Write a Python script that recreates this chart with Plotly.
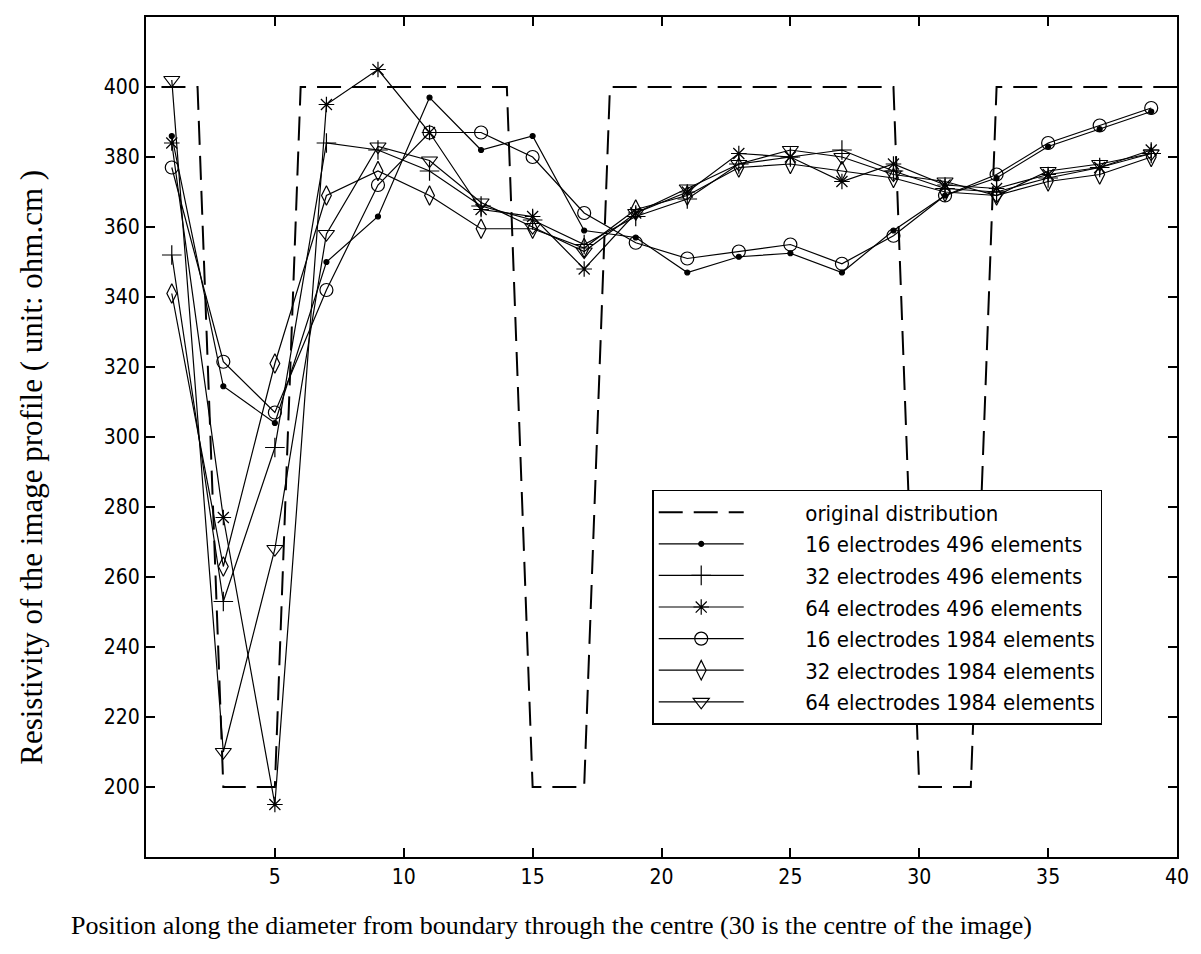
import plotly.graph_objects as go

# ---- data ----
pos = [1, 3, 5, 7, 9, 11, 13, 15, 17, 19, 21, 23, 25, 27, 29, 31, 33, 35, 37, 39]

orig_x = [0.6, 2, 3, 5, 6, 14, 15, 17, 18, 29, 30, 32, 33, 40]
orig_y = [400, 400, 200, 200, 400, 400, 200, 200, 400, 400, 200, 200, 400, 400]

e16_496 = [386, 314.5, 304, 350, 363, 397, 382, 386, 359, 357, 347, 351.5, 352.5, 347, 359, 369, 374, 383, 388, 393]
e32_496 = [352, 253, 297, 384, 382, 376, 366, 362, 355, 363, 368, 378, 380, 382, 376, 371, 370, 374, 377, 381]
e64_496 = [384, 277, 195, 395, 405, 387, 365, 363, 348, 364, 370, 381, 380, 373, 378, 372, 371, 375, 377, 382]
e16_1984 = [377, 321.5, 307, 342, 372, 387, 387, 380, 364, 355.5, 351, 353, 355, 349.5, 357.5, 369, 375, 384, 389, 394]
e32_1984 = [341, 263, 321, 369, 376, 369, 359.5, 359.5, 354, 365, 369, 377, 378, 376, 374, 370, 369, 373, 375, 380]
e64_1984 = [402, 210, 268, 358, 383, 379, 367, 360, 353, 364, 371, 378, 382, 380, 375, 373, 369, 376, 378, 381]

names = [
    "16 electrodes 496 elements",
    "32 electrodes 496 elements",
    "64 electrodes 496 elements",
    "16 electrodes 1984 elements",
    "32 electrodes 1984 elements",
    "64 electrodes 1984 elements",
]
series = [e16_496, e32_496, e64_496, e16_1984, e32_1984, e64_1984]
symbols = ["circle", "cross-thin-open", "asterisk-open", "circle-open", "diamond-tall-open", "triangle-down-open"]
sizes = [5, 14, 13, 13, 14, 14]

x_ticks = [5, 10, 15, 20, 25, 30, 35, 40]
y_ticks = [200, 220, 240, 260, 280, 300, 320, 340, 360, 380, 400]

tick_font = "Liberation Sans Narrow, DejaVu Sans Condensed, Arial Narrow, sans-serif"
serif_font = "Liberation Serif, Times New Roman, serif"
pad = "\u00a0" * 9

fig = go.Figure()
fig.add_trace(go.Scatter(
    x=orig_x, y=orig_y, mode="lines", name=pad + "original distribution",
    line=dict(color="black", width=2, dash="24px,11px"),
))
for name, ys, sym, sz in zip(names, series, symbols, sizes):
    fig.add_trace(go.Scatter(
        x=pos, y=ys, mode="lines+markers", name=pad + name,
        line=dict(color="black", width=1.2),
        marker=dict(symbol=sym, size=sz, color="black",
                    line=dict(color="black", width=1.2)),
    ))

axis_common = dict(
    showline=True, linecolor="black", linewidth=2, mirror="ticks",
    ticks="inside", ticklen=9, tickwidth=1.5, tickcolor="black",
    showgrid=False, zeroline=False,
    tickfont=dict(family=tick_font, size=21, color="black"),
)
fig.update_xaxes(range=[0, 40], tickvals=x_ticks, **axis_common)
fig.update_yaxes(range=[180, 420], tickvals=y_ticks, **axis_common)

fig.update_layout(
    width=1201, height=954,
    margin=dict(l=146, r=14, t=17, b=97),
    paper_bgcolor="white", plot_bgcolor="white",
    showlegend=True,
    legend=dict(
        x=0.491, y=0.437, xanchor="left", yanchor="top",
        bgcolor="white", bordercolor="black", borderwidth=1.5,
        font=dict(family=tick_font, size=22, color="black"),
        itemwidth=85,
        tracegroupgap=0,
    ),
    annotations=[
        dict(text="Position along the diameter from boundary through the centre (30 is the centre of the image)",
             xref="paper", yref="paper", x=-0.075, y=-0.081, xanchor="left", yanchor="middle",
             showarrow=False, font=dict(family=serif_font, size=26, color="black")),
        dict(text="Resistivity of the image profile ( unit: ohm.cm )",
             xref="paper", yref="paper", x=-0.111, y=0.464, xanchor="center", yanchor="middle",
             textangle=-90, showarrow=False, font=dict(family=serif_font, size=31, color="black")),
    ],
)

fig.write_html("out.html")
